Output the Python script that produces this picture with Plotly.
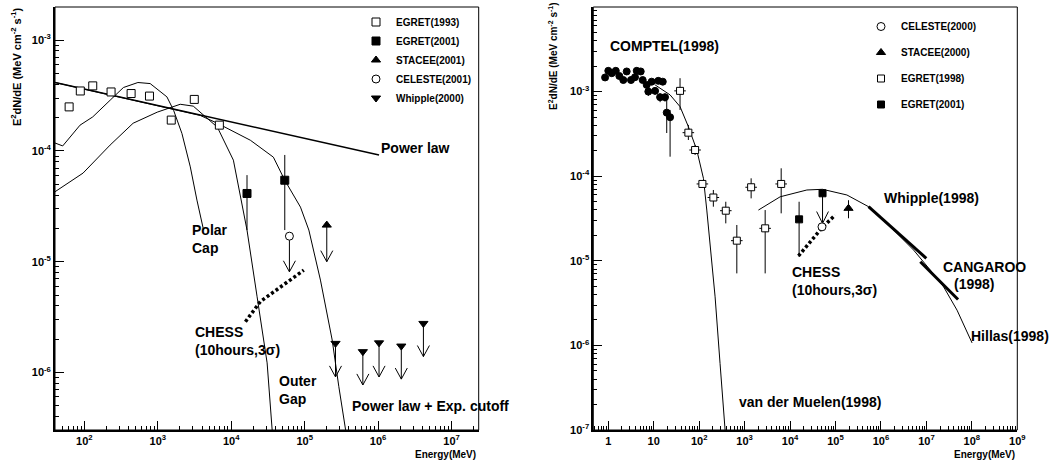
import plotly.graph_objects as go

W, H = 1053, 463
FONT = "Liberation Sans"

# ================= LEFT PANEL DATA =================
L_egret93_E = [62, 88, 130, 231, 433, 770, 1525, 3140, 6890]
L_egret93_F = [2.5e-4, 3.48e-4, 3.87e-4, 3.41e-4, 3.3e-4, 3.13e-4, 1.9e-4, 2.92e-4, 1.71e-4]

L_egret01_E = [1.64e4, 5.36e4]
L_egret01_F = [4.13e-5, 5.44e-5]
L_egret01_Fhi = [6.05e-5, 9.2e-5]
L_egret01_Flo = [1.93e-5, 1.93e-5]

L_stacee_E = [2.0e5]
L_stacee_F = [2.14e-5]
L_stacee_tip = [1.0e-5]

L_celeste_E = [6.2e4]
L_celeste_F = [1.7e-5]
L_celeste_tip = [8.1e-6]

L_whipple_E = [2.63e5, 6.2e5, 1.03e6, 2.07e6, 4.14e6]
L_whipple_F = [1.83e-6, 1.54e-6, 1.85e-6, 1.73e-6, 2.77e-6]
L_whipple_tip = [9.1e-7, 7.7e-7, 9.1e-7, 8.7e-7, 1.39e-6]

L_powerlaw_E = [40, 1.03e6]
L_powerlaw_F = [4.15e-4, 9.2e-5]

L_polar_E = [39.8, 50.7, 87.3, 130, 224, 340, 536, 787, 1330, 1640, 2130, 2770, 3410, 4200]
L_polar_F = [1.18e-4, 1.11e-4, 1.71e-4, 2.03e-4, 2.87e-4, 3.74e-4, 4.15e-4, 4.06e-4,
             3.08e-4, 2.33e-4, 1.44e-4, 7.18e-5, 3.6e-5, 1.93e-5]

L_outer_E = [39.8, 95.9, 224, 461, 982, 2020, 3040, 6470, 1.07e4, 1.64e4, 2.25e4, 3.08e4, 3.61e4]
L_outer_F = [4.28e-5, 6.31e-5, 1.13e-4, 1.78e-4, 2.24e-4, 2.64e-4, 2.54e-4, 1.64e-4,
             8.26e-5, 1.93e-5, 4.82e-6, 1.22e-6, 3.02e-7]

L_plexp_E = [39.8, 787, 3800, 6470, 1.82e4, 3.75e4, 5.36e4, 8.77e4, 1.14e5, 1.64e5, 2.37e5, 2.92e5, 3.61e5]
L_plexp_F = [4.15e-4, 2.66e-4, 2.09e-4, 1.78e-4, 1.25e-4, 8.79e-5, 5.44e-5, 3.11e-5,
             1.93e-5, 6.82e-6, 1.96e-6, 7.43e-7, 3.02e-7]

L_chess_E = [1.56e4, 2.49e4, 9.73e4]
L_chess_F = [2.87e-6, 4.36e-6, 8.39e-6]

L_xtick_vals = [1e2, 1e3, 1e4, 1e5, 1e6, 1e7]
L_xtick_text = ["10<sup>2</sup>", "10<sup>3</sup>", "10<sup>4</sup>", "10<sup>5</sup>",
                "10<sup>6</sup>", "10<sup>7</sup>"]
L_ytick_vals = [1e-6, 1e-5, 1e-4, 1e-3]
L_ytick_text = ["10<sup>-6</sup>", "10<sup>-5</sup>", "10<sup>-4</sup>", "10<sup>-3</sup>"]

# ================= RIGHT PANEL DATA =================
R_comptel_E = [0.85, 1.0, 1.19, 1.46, 1.75, 2.14, 2.54, 3.16, 3.87, 4.22, 5.17, 5.71,
               7.0, 7.6, 9.0, 10.7, 12.6, 15.8, 13.8, 17.7, 19.3, 22.9]
R_comptel_F = [1.47e-3, 1.76e-3, 1.65e-3, 1.76e-3, 1.53e-3, 1.37e-3, 1.73e-3, 1.37e-3,
               1.48e-3, 1.76e-3, 1.73e-3, 1.37e-3, 1.2e-3, 1.0e-3, 1.31e-3, 1.02e-3,
               1.34e-3, 1.31e-3, 8.6e-4, 8.6e-4, 5.64e-4, 4.98e-4]
R_comptel_Fhi = [1.47e-3, 1.76e-3, 1.65e-3, 1.76e-3, 1.53e-3, 1.37e-3, 1.73e-3, 1.37e-3,
                 1.48e-3, 1.76e-3, 1.73e-3, 1.37e-3, 1.2e-3, 1.1e-3, 1.31e-3, 1.1e-3,
                 1.34e-3, 1.31e-3, 9.5e-4, 9.4e-4, 7.96e-4, 6.07e-4]
R_comptel_Flo = [1.47e-3, 1.76e-3, 1.65e-3, 1.76e-3, 1.53e-3, 1.37e-3, 1.73e-3, 1.37e-3,
                 1.48e-3, 1.76e-3, 1.73e-3, 1.37e-3, 1.2e-3, 8.9e-4, 1.31e-3, 9.2e-4,
                 1.34e-3, 1.31e-3, 7.5e-4, 7.6e-4, 3.24e-4, 1.70e-4]

R_egret98_E = [37.9, 57.8, 81.3, 117.6, 205, 385, 673, 1390, 2830, 6370]
R_egret98_F = [1.02e-3, 3.27e-4, 2.04e-4, 8.1e-5, 5.6e-5, 3.91e-5, 1.73e-5, 7.4e-5, 2.42e-5, 8.1e-5]
R_egret98_Fhi = [1.44e-3, 4.04e-4, 2.34e-4, 8.9e-5, 6.87e-5, 4.99e-5, 2.65e-5, 9.44e-5, 3.98e-5, 1.24e-4]
R_egret98_Flo = [6.07e-4, 2.68e-4, 1.78e-4, 7.3e-5, 4.36e-5, 2.77e-5, 7.1e-6, 5.47e-5, 7.1e-6, 3.64e-5]
R_egret98_Ebin = 1.34   # half-width factor of energy bins

R_egret01_E = [1.58e4]
R_egret01_F = [3.09e-5]
R_egret01_Fhi = [4.99e-5]
R_egret01_Flo = [1.11e-5]
R_egret01ul_E = [5.18e4]
R_egret01ul_F = [6.28e-5]
R_egret01ul_tip = [2.77e-5]

R_celeste_E = [5.04e4]
R_celeste_F = [2.52e-5]

R_stacee_E = [1.93e5]
R_stacee_F = [4.17e-5]
R_stacee_Fhi = [5.2e-5]
R_stacee_Flo = [3.18e-5]

R_vdm_E = [10.7, 22.9, 37.9, 57.8, 88.5, 124, 147, 165, 224, 288, 372]
R_vdm_F = [1.2e-3, 9.14e-4, 6.64e-4, 3.85e-4, 2.04e-4, 9.44e-5, 3.98e-5, 2.01e-5, 3.75e-6, 6.11e-7, 9.9e-8]

R_hillas_E = [2010, 6050, 2.34e4, 5.18e4, 1.78e5, 5.33e5, 1.90e6, 5.22e6, 1.22e7, 2.39e7, 4.72e7, 1.01e8]
R_hillas_F = [3.98e-5, 5.71e-5, 6.87e-5, 7.0e-5, 6.0e-5, 4.36e-5, 2.31e-5, 1.34e-5, 7.76e-6,
              4.92e-6, 2.61e-6, 1.07e-6]

R_whipple98_E = [5.33e5, 9.95e6]
R_whipple98_F = [4.36e-5, 1.07e-5]
R_cangaroo_E = [7.35e6, 4.97e7]
R_cangaroo_F = [9.73e-6, 3.49e-6]

R_chess_E = [1.53e4, 5.01e4, 9.84e4]
R_chess_F = [1.14e-5, 2.45e-5, 3.48e-5]

R_xtick_vals = [1, 10, 1e2, 1e3, 1e4, 1e5, 1e6, 1e7, 1e8, 1e9]
R_xtick_text = ["1", "10", "10<sup>2</sup>", "10<sup>3</sup>", "10<sup>4</sup>", "10<sup>5</sup>",
                "10<sup>6</sup>", "10<sup>7</sup>", "10<sup>8</sup>", "10<sup>9</sup>"]
R_ytick_vals = [1e-7, 1e-6, 1e-5, 1e-4, 1e-3]
R_ytick_text = ["10<sup>-7</sup>", "10<sup>-6</sup>", "10<sup>-5</sup>", "10<sup>-4</sup>",
                "10<sup>-3</sup>"]


# ================= helpers =================
def px(x):
    return x / W


def py(y):
    return 1 - y / H


def minor_vals(k0, k1):
    return [d * 10.0 ** k for k in range(k0, k1) for d in range(2, 10)]


def arrows(E, F, tip, hw_dec, hh_dec):
    xs, ys = [], []
    for e, f, t in zip(E, F, tip):
        xs += [e, e, None]
        ys += [f, t, None]
        xs += [e * 10 ** (-hw_dec), e, e * 10 ** hw_dec, None]
        ys += [t * 10 ** hh_dec, t, t * 10 ** hh_dec, None]
    return xs, ys


def errs(F, hi, lo):
    return ([h - f for f, h in zip(F, hi)], [f - l for f, l in zip(F, lo)])


fig = go.Figure()
BL = "black"


def line(x, y, ax, width=1.0, dash=None):
    xa, ya = ax
    fig.add_trace(go.Scatter(x=x, y=y, mode="lines", xaxis=xa, yaxis=ya, showlegend=False,
                             hoverinfo="skip",
                             line=dict(color=BL, width=width, dash=dash)))


def markers(x, y, ax, name, symbol, fill, size, legend, err=None, errx=None, showlegend=True):
    xa, ya = ax
    kw = {}
    if err is not None:
        kw["error_y"] = dict(type="data", symmetric=False, array=err[0], arrayminus=err[1],
                             color=BL, thickness=1, width=0)
    if errx is not None:
        kw["error_x"] = dict(type="data", symmetric=False, array=errx[0], arrayminus=errx[1],
                             color=BL, thickness=1, width=0)
    fig.add_trace(go.Scatter(x=x, y=y, mode="markers", xaxis=xa, yaxis=ya, name=name,
                             legend=legend, legendgroup=name, showlegend=showlegend,
                             marker=dict(symbol=symbol, size=size, color=fill,
                                         line=dict(color=BL, width=1)), **kw))


LA = ("x", "y")
RA = ("x2", "y2")

# ---------- left panel ----------
line(L_powerlaw_E, L_powerlaw_F, LA, 1.4)
line(L_polar_E, L_polar_F, LA, 1.0)
line(L_outer_E, L_outer_F, LA, 1.0)
line(L_plexp_E, L_plexp_F, LA, 1.0)
line(L_chess_E, L_chess_F, LA, 3.5, "3px,2.5px")
ax_, ay_ = arrows(L_celeste_E + L_stacee_E + L_whipple_E,
                  L_celeste_F + L_stacee_F + L_whipple_F,
                  L_celeste_tip + L_stacee_tip + L_whipple_tip, 0.082, 0.1)
line(ax_, ay_, LA, 1.0)

markers(L_egret93_E, L_egret93_F, LA, "EGRET(1993)", "square", "white", 8, "legend")
markers(L_egret01_E, L_egret01_F, LA, "EGRET(2001)", "square", BL, 8, "legend",
        err=errs(L_egret01_F, L_egret01_Fhi, L_egret01_Flo))
markers(L_stacee_E, L_stacee_F, LA, "STACEE(2001)", "triangle-up", BL, 8, "legend")
markers(L_celeste_E, L_celeste_F, LA, "CELESTE(2001)", "circle", "white", 8, "legend")
markers(L_whipple_E, L_whipple_F, LA, "Whipple(2000)", "triangle-down", BL, 8, "legend")

# ---------- right panel ----------
line(R_vdm_E, R_vdm_F, RA, 1.0)
line(R_hillas_E, R_hillas_F, RA, 1.0)
line(R_whipple98_E, R_whipple98_F, RA, 3.0)
line(R_cangaroo_E, R_cangaroo_F, RA, 3.0)
line(R_chess_E, R_chess_F, RA, 3.5, "3px,2.5px")
ax_, ay_ = arrows(R_egret01ul_E, R_egret01ul_F, R_egret01ul_tip, 0.13, 0.14)
line(ax_, ay_, RA, 1.0)

markers(R_comptel_E, R_comptel_F, RA, "COMPTEL(1998)", "circle", BL, 7, "legend2",
        err=errs(R_comptel_F, R_comptel_Fhi, R_comptel_Flo), showlegend=False)
markers(R_celeste_E, R_celeste_F, RA, "CELESTE(2000)", "circle", "white", 8, "legend2")
markers(R_stacee_E, R_stacee_F, RA, "STACEE(2000)", "triangle-up", BL, 8, "legend2",
        err=errs(R_stacee_F, R_stacee_Fhi, R_stacee_Flo))
markers(R_egret98_E, R_egret98_F, RA, "EGRET(1998)", "square", "white", 7, "legend2",
        err=errs(R_egret98_F, R_egret98_Fhi, R_egret98_Flo),
        errx=([e * (R_egret98_Ebin - 1) for e in R_egret98_E],
              [e * (1 - 1 / R_egret98_Ebin) for e in R_egret98_E]))
markers(R_egret01_E + R_egret01ul_E, R_egret01_F + R_egret01ul_F, RA, "EGRET(2001)", "square", BL, 7,
        "legend2", err=([h - f for f, h in zip(R_egret01_F, R_egret01_Fhi)] + [0],
                        [f - l for f, l in zip(R_egret01_F, R_egret01_Flo)] + [0]))

# ================= axes =================
tickfont = dict(family=FONT, size=11, color=BL, weight="bold")
common = dict(type="log", showgrid=False, zeroline=False, showline=True, linecolor=BL,
              linewidth=1.8, ticks="inside", ticklen=9, tickwidth=1, tickcolor=BL,
              tickfont=tickfont, tickmode="array", automargin=False)

ydom = [py(430), py(7)]
fig.update_layout(
    xaxis=dict(common, domain=[px(55), px(478.7)], range=[1.6, 7.37], anchor="y",
               tickvals=L_xtick_vals, ticktext=L_xtick_text,
               minor=dict(tickmode="array", tickvals=minor_vals(1, 8), ticks="inside",
                          ticklen=4, tickwidth=1, tickcolor=BL)),
    yaxis=dict(common, domain=ydom, range=[-6.52, -2.70], anchor="x",
               tickvals=L_ytick_vals, ticktext=L_ytick_text,
               minor=dict(tickmode="array", tickvals=minor_vals(-7, -2), ticks="inside",
                          ticklen=4, tickwidth=1, tickcolor=BL)),
    xaxis2=dict(common, domain=[px(593.3), px(1017.3)], range=[-0.33, 9.0], anchor="y2",
                tickvals=R_xtick_vals, ticktext=R_xtick_text,
                minor=dict(tickmode="array", tickvals=minor_vals(-1, 9), ticks="inside",
                           ticklen=4, tickwidth=1, tickcolor=BL)),
    yaxis2=dict(common, domain=ydom, range=[-7.0, -2.0], anchor="x2",
                tickvals=R_ytick_vals, ticktext=R_ytick_text,
                minor=dict(tickmode="array", tickvals=minor_vals(-7, -2), ticks="inside",
                           ticklen=4, tickwidth=1, tickcolor=BL)),
)

# frame boxes
for xr, yr in (("x domain", "y domain"), ("x2 domain", "y2 domain")):
    fig.add_shape(type="rect", xref=xr, yref=yr, x0=0, x1=1, y0=0, y1=1,
                  line=dict(color=BL, width=1))

legfont = dict(family=FONT, size=10, color=BL, weight="bold")
fig.update_layout(
    width=W, height=H, margin=dict(l=0, r=0, t=0, b=0, autoexpand=False),
    paper_bgcolor="white", plot_bgcolor="white",
    font=dict(family=FONT, color=BL),
    legend=dict(x=px(356), y=py(7.5), xanchor="left", yanchor="top", font=legfont,
                bgcolor="rgba(0,0,0,0)", itemwidth=30, tracegroupgap=0),
    legend2=dict(x=px(861), y=py(12), xanchor="left", yanchor="top", font=legfont,
                 bgcolor="rgba(0,0,0,0)", itemwidth=30, tracegroupgap=7),
)

# ================= labels =================
def label(text, x, y, size=14, xanchor="left", align="left"):
    fig.add_annotation(text=text, xref="paper", yref="paper", x=px(x), y=py(y),
                       xanchor=xanchor, yanchor="middle", showarrow=False, align=align,
                       font=dict(family=FONT, size=size, color=BL, weight="bold"))


label("Power law", 379, 148)
label("Polar<br>Cap", 190, 239)
label("CHESS<br>(10hours,3σ)", 193, 340.5)
label("Outer<br>Gap", 277, 390)
label("Power law + Exp. cutoff", 350, 406)

label("COMPTEL(1998)", 608, 46.5)
label("Whipple(1998)", 881.7, 198)
label("CANGAROO", 941, 267)
label("(1998)", 951.7, 283.5)
label("Hillas(1998)", 1051, 336, xanchor="right")
label("CHESS<br>(10hours,3σ)", 790, 280.5)
label("van der Muelen(1998)", 736.7, 402)

label("Energy(MeV)", 478, 454, size=10, xanchor="right")
label("Energy(MeV)", 1017, 454, size=10, xanchor="right")

ytitle = "E<sup>2</sup>dN/dE (MeV cm<sup>-2</sup> s<sup>-1</sup>)"
fig.add_annotation(text=ytitle, xref="paper", yref="paper", x=px(16), y=py(67), textangle=-90,
                   showarrow=False, xanchor="center", yanchor="middle",
                   font=dict(family=FONT, size=11, color=BL, weight="bold"))
fig.add_annotation(text=ytitle, xref="paper", yref="paper", x=px(553), y=py(56), textangle=-90,
                   showarrow=False, xanchor="center", yanchor="middle",
                   font=dict(family=FONT, size=10, color=BL, weight="bold"))

fig.write_html("out.html", config={"displayModeBar": False},
               post_script="document.body.style.margin='0px';"
                           "document.body.style.overflow='hidden';")
